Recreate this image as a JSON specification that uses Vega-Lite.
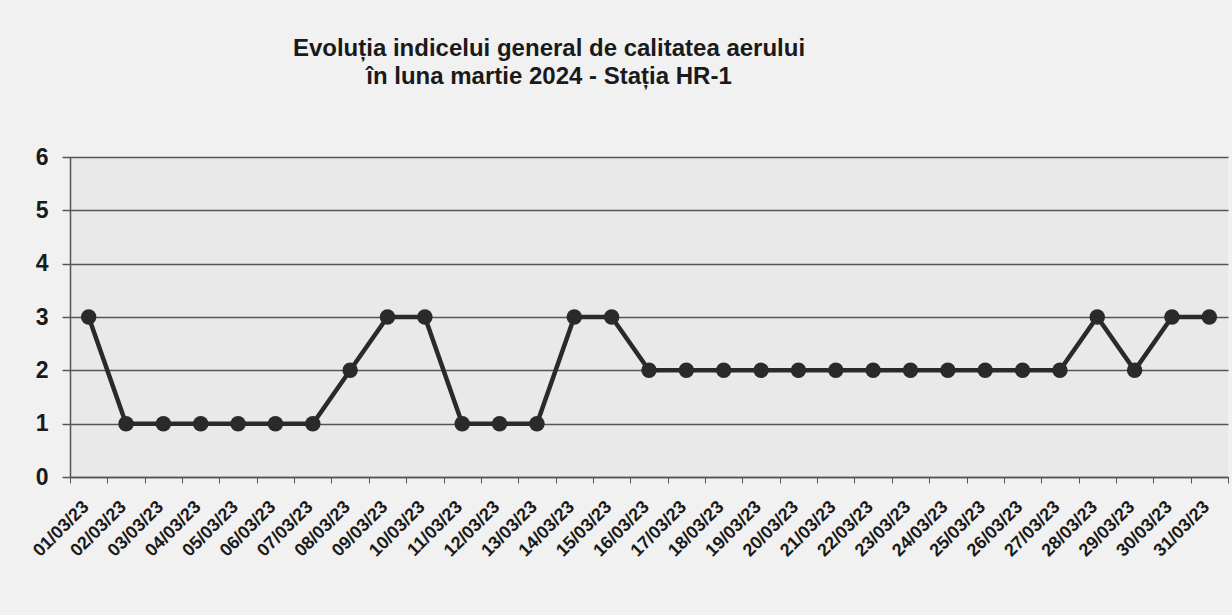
{
  "$schema": "https://vega.github.io/schema/vega-lite/v6.json",
  "autosize": "none",
  "width": 1158,
  "height": 320,
  "padding": {"left": 70, "top": 157, "right": 4, "bottom": 138},
  "background": "#f1f1f1",
  "title": {
    "text": ["Evoluția indicelui general de calitatea aerului", "în luna martie 2024 - Stația HR-1"],
    "font": "Liberation Sans",
    "fontSize": 24,
    "fontWeight": "bold",
    "color": "#1a1a1a",
    "lineHeight": 28,
    "anchor": "middle",
    "dx": -100,
    "offset": 57
  },
  "config": {
    "view": {"fill": "#e9e9e9", "stroke": null},
    "axis": {"labelFont": "Liberation Sans", "labelFontWeight": "bold", "labelColor": "#1a1a1a"}
  },
  "data": {
    "values": [
      {"data": "01/03/23", "indice": 3},
      {"data": "02/03/23", "indice": 1},
      {"data": "03/03/23", "indice": 1},
      {"data": "04/03/23", "indice": 1},
      {"data": "05/03/23", "indice": 1},
      {"data": "06/03/23", "indice": 1},
      {"data": "07/03/23", "indice": 1},
      {"data": "08/03/23", "indice": 2},
      {"data": "09/03/23", "indice": 3},
      {"data": "10/03/23", "indice": 3},
      {"data": "11/03/23", "indice": 1},
      {"data": "12/03/23", "indice": 1},
      {"data": "13/03/23", "indice": 1},
      {"data": "14/03/23", "indice": 3},
      {"data": "15/03/23", "indice": 3},
      {"data": "16/03/23", "indice": 2},
      {"data": "17/03/23", "indice": 2},
      {"data": "18/03/23", "indice": 2},
      {"data": "19/03/23", "indice": 2},
      {"data": "20/03/23", "indice": 2},
      {"data": "21/03/23", "indice": 2},
      {"data": "22/03/23", "indice": 2},
      {"data": "23/03/23", "indice": 2},
      {"data": "24/03/23", "indice": 2},
      {"data": "25/03/23", "indice": 2},
      {"data": "26/03/23", "indice": 2},
      {"data": "27/03/23", "indice": 2},
      {"data": "28/03/23", "indice": 3},
      {"data": "29/03/23", "indice": 2},
      {"data": "30/03/23", "indice": 3},
      {"data": "31/03/23", "indice": 3}
    ]
  },
  "encoding": {
    "x": {
      "field": "data",
      "type": "ordinal",
      "sort": null,
      "scale": {"paddingInner": 0, "paddingOuter": 0},
      "axis": {
        "title": null,
        "labelAngle": -45,
        "labelAlign": "right",
        "labelBaseline": "middle",
        "labelFontSize": 18,
        "labelPadding": 21,
        "labelOffset": -3,
        "tickBand": "extent",
        "tickSize": 6,
        "tickColor": "#555555",
        "domainColor": "#555555",
        "domainWidth": 1.5,
        "grid": false
      }
    },
    "y": {
      "field": "indice",
      "type": "quantitative",
      "scale": {"domain": [0, 6]},
      "axis": {
        "title": null,
        "values": [0, 1, 2, 3, 4, 5, 6],
        "labelFontSize": 23,
        "labelPadding": 14,
        "tickSize": 8,
        "tickColor": "#555555",
        "tickWidth": 1.5,
        "domainColor": "#555555",
        "domainWidth": 1.5,
        "grid": true,
        "gridColor": "#555555",
        "gridWidth": 1.5
      }
    }
  },
  "layer": [
    {"mark": {"type": "line", "color": "#2a2a2a", "strokeWidth": 4.5}},
    {"mark": {"type": "point", "filled": true, "color": "#2a2a2a", "opacity": 1, "size": 240}}
  ]
}
